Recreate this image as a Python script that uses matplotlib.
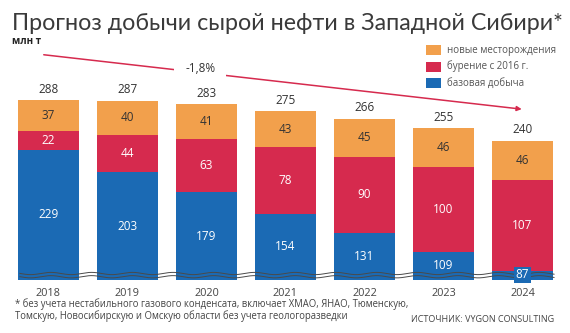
import numpy as np
import matplotlib
matplotlib.use("Agg")
import matplotlib.pyplot as plt

plt.rcParams['font.family'] = ['Open Sans', 'DejaVu Sans']

years = ["2018", "2019", "2020", "2021", "2022", "2023", "2024"]
base = [229, 203, 179, 154, 131, 109, 87]
drilling = [22, 44, 63, 78, 90, 100, 107]
new_fields = [37, 40, 41, 43, 45, 46, 46]
totals = [288, 287, 283, 275, 266, 255, 240]
series_names = ["новые месторождения", "бурение с 2016 г.", "базовая добыча"]
cagr_label = "-1,8%"
unit_label = "млн т"
title = "Прогноз добычи сырой нефти в Западной Сибири*"
footnote_lines = ["* без учета нестабильного газового конденсата, включает ХМАО, ЯНАО, Тюменскую,",
                  "Томскую, Новосибирскую и Омскую области без учета геологоразведки"]
source = "ИСТОЧНИК: VYGON CONSULTING"

C_ORANGE = "#f2a04c"
C_RED = "#d62a4e"
C_BLUE = "#1b6ab4"
C_DARK = "#333333"

W, H = 570, 333
fig = plt.figure(figsize=(W / 100, H / 100), dpi=100)

# axes spanning pixel rows 30..280, full width
ax = fig.add_axes([0, (H - 280) / H, 1, 250 / H])
ymin, ymax = 76, 76 + 250 / 0.85
x0 = -48.5 / 79
ax.set_xlim(x0, x0 + 570 / 79)
ax.set_ylim(ymin, ymax)
ax.axis("off")

x = np.arange(len(years))
bw = 0.775
ax.bar(x, base, bw, color=C_BLUE, edgecolor="none")
bot2 = np.array(base)
ax.bar(x, drilling, bw, bottom=bot2, color=C_RED, edgecolor="none")
bot3 = bot2 + np.array(drilling)
ax.bar(x, new_fields, bw, bottom=bot3, color=C_ORANGE, edgecolor="none")

fs_num = 8.5
for i in range(len(years)):
    b = base[i]
    if i < len(years) - 1:
        ax.text(x[i], (ymin + b) / 2, str(b), ha="center", va="center",
                color="white", fontsize=fs_num)
    ax.text(x[i], b + drilling[i] / 2, str(drilling[i]), ha="center", va="center",
            color="white", fontsize=fs_num)
    ax.text(x[i], bot3[i] + new_fields[i] / 2, str(new_fields[i]), ha="center",
            va="center", color=C_DARK, fontsize=fs_num)
    ax.annotate(str(totals[i]), (x[i], totals[i]), xytext=(0, 3),
                textcoords="offset points", ha="center", va="bottom",
                color=C_DARK, fontsize=fs_num)
    ax.annotate(years[i], (x[i], ymin), xytext=(0, -13.3 * 0.72),
                textcoords="offset points", ha="center", va="center",
                color="#444444", fontsize=7.8)

# axis break: double wavy line near the bottom
xs = np.linspace(0.035, 0.972, 800)
for yy in (0.026, 0.013):
    ax.plot(xs, yy + 0.0045 * np.sin(xs * 2 * np.pi * 14), transform=ax.transAxes,
            color="#4a4a4a", lw=0.7, zorder=3)

# last base value shown in a small box over the break
last = len(years) - 1
ax.text(x[last], 0.02, str(base[last]), transform=ax.get_xaxis_transform(),
        ha="center", va="center", color="white", fontsize=fs_num, zorder=5,
        bbox=dict(boxstyle="square,pad=0.15", fc=C_BLUE, ec="none"))

# trend arrow
ax.annotate("", xy=(5.99, 277), xytext=(-0.06, 341),
            arrowprops=dict(arrowstyle="-|>", color=C_RED, lw=1.1,
                            mutation_scale=7, shrinkA=0, shrinkB=0))
ax.text(1.92, 324.5, cagr_label, ha="center", va="center", color=C_DARK,
        fontsize=fs_num, zorder=4,
        bbox=dict(boxstyle="square,pad=0.9", fc="white", ec="none"))

# title, fitted to span the chart width
t = fig.text(12 / W, 1 - 23 / H, title, ha="left", va="center", fontsize=17,
             family=["Lato", "DejaVu Sans"], fontweight="normal", color="#3a3a3a")
renderer = fig.canvas.get_renderer()
tw = t.get_window_extent(renderer).width
t.set_fontsize(17 * 551 / tw)

fig.text(12 / W, 1 - 42 / H, unit_label, ha="left", va="center", fontsize=7,
         fontweight="bold", color="#222222")

# legend
for k, (name, col) in enumerate(zip(series_names, [C_ORANGE, C_RED, C_BLUE])):
    yc = 50 + 16.5 * k
    fig.patches.append(plt.Rectangle((426 / W, 1 - (yc + 5) / H), 15 / W, 10 / H,
                                     transform=fig.transFigure, fc=col, ec="none"))
    fig.text(447 / W, 1 - yc / H, name, ha="left", va="center", fontsize=7,
             color="#555555")

for line, yc in zip(footnote_lines, (304.5, 316)):
    fig.text(15 / W, 1 - yc / H, line, ha="left", va="center", fontsize=6.85,
             color="#444444")
fig.text(554 / W, 1 - 319 / H, source, ha="right", va="center", fontsize=6.5,
         color="#444444")

fig.savefig("out.png", dpi=100)
